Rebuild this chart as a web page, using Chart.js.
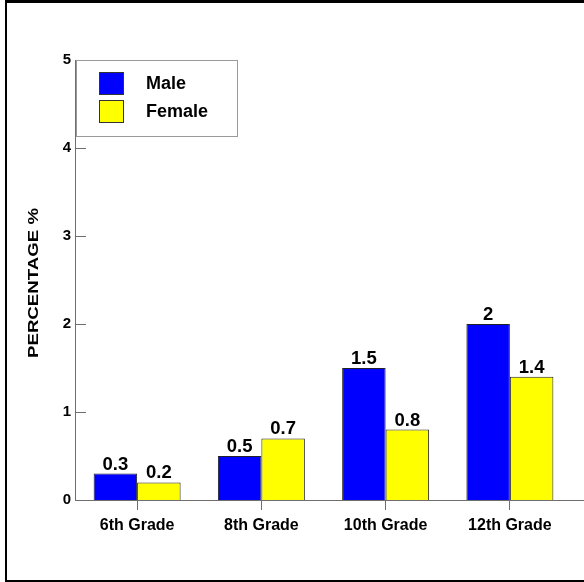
<!DOCTYPE html>
<html>
<head>
<meta charset="utf-8">
<script src="https://cdn.jsdelivr.net/npm/chart.js@4/dist/chart.umd.min.js"></script>
<style>
  html, body { margin: 0; padding: 0; background: #fff; overflow: hidden; }
  #wrap { position: relative; width: 584px; height: 582px; overflow: hidden; }
  #frame {
    position: absolute; left: 5px; top: 0; width: 640px; height: 577px;
    border-top: 3px solid #000; border-left: 2px solid #000; border-bottom: 2px solid #000;
    pointer-events: none;
  }
  canvas { position: absolute; left: 0; top: 0; }
</style>
</head>
<body>
<div id="wrap">
  <canvas id="c" width="584" height="582"></canvas>
  <div id="frame"></div>
</div>
<script>
// Grade levels and percentages by sex
const grades = ['6th Grade', '8th Grade', '10th Grade', '12th Grade'];
const maleValues = [0.3, 0.5, 1.5, 2];
const femaleValues = [0.2, 0.7, 0.8, 1.4];
const seriesNames = ['Male', 'Female'];
const yTickValues = [0, 1, 2, 3, 4, 5];
const yAxisTitle = 'PERCENTAGE %';

const FONT = 'Arial, "Liberation Sans", sans-serif';
const AXIS_GRAY = '#6e6e6e';

// Value labels above each bar, inward y ticks, y title, x-axis extension and legend box
const decorations = {
  id: 'decorations',
  afterDatasetsDraw(chart) {
    const ctx = chart.ctx;
    ctx.save();
    ctx.fillStyle = '#000';
    ctx.font = 'bold 18.5px ' + FONT;
    ctx.textAlign = 'center';
    ctx.textBaseline = 'alphabetic';
    chart.data.datasets.forEach((ds, i) => {
      chart.getDatasetMeta(i).data.forEach((el, j) => {
        ctx.fillText(String(ds.data[j]), el.x, el.y - 4);
      });
    });
    ctx.restore();
  },
  afterDraw(chart) {
    const ctx = chart.ctx;
    const area = chart.chartArea;
    const y = chart.scales.y;
    ctx.save();

    // inward tick marks on the value axis
    ctx.strokeStyle = AXIS_GRAY;
    ctx.lineWidth = 1;
    yTickValues.forEach(v => {
      const py = Math.round(y.getPixelForValue(v)) + 0.5;
      ctx.beginPath();
      ctx.moveTo(area.left, py);
      ctx.lineTo(area.left + 11, py);
      ctx.stroke();
    });

    // category axis runs on to the right edge
    const by = Math.round(area.bottom) + 0.5;
    ctx.beginPath();
    ctx.moveTo(area.right, by);
    ctx.lineTo(chart.width, by);
    ctx.stroke();

    // rotated axis title, drawn wide
    ctx.fillStyle = '#000';
    ctx.font = 'bold 14px ' + FONT;
    ctx.textAlign = 'center';
    ctx.textBaseline = 'middle';
    const w = ctx.measureText(yAxisTitle).width;
    ctx.translate(34, 283);
    ctx.rotate(-Math.PI / 2);
    ctx.scale(150 / w, 1);
    ctx.fillText(yAxisTitle, 0, 0);
    ctx.setTransform(1, 0, 0, 1, 0, 0);

    // legend box
    const lx = 76, ly = 60, lw = 161, lh = 76;
    ctx.fillStyle = '#fff';
    ctx.fillRect(lx, ly, lw, lh);
    ctx.strokeStyle = '#9a9a9a';
    ctx.strokeRect(lx + 0.5, ly + 0.5, lw, lh);
    ctx.font = 'bold 18px ' + FONT;
    ctx.textAlign = 'left';
    ctx.textBaseline = 'middle';
    chart.data.datasets.forEach((ds, i) => {
      const sy = 72 + i * 28;
      ctx.fillStyle = ds.backgroundColor;
      ctx.fillRect(99, sy, 24, 22);
      ctx.strokeStyle = '#333';
      ctx.strokeRect(99.5, sy + 0.5, 24, 22);
      ctx.fillStyle = '#000';
      ctx.fillText(ds.label, 146, sy + 12);
    });
    ctx.restore();
  }
};

new Chart(document.getElementById('c'), {
  type: 'bar',
  data: {
    labels: grades,
    datasets: [
      { label: seriesNames[0], data: maleValues, backgroundColor: '#0000ff', borderColor: '#222', borderWidth: 1 },
      { label: seriesNames[1], data: femaleValues, backgroundColor: '#ffff00', borderColor: '#222', borderWidth: 1 }
    ]
  },
  options: {
    responsive: false,
    devicePixelRatio: 1,
    animation: false,
    layout: { padding: { left: 0, top: 60, right: 12, bottom: 0 } },
    datasets: { bar: { categoryPercentage: 0.7, barPercentage: 1.0 } },
    plugins: { legend: { display: false }, tooltip: { enabled: false } },
    scales: {
      x: {
        offset: true,
        grid: { display: true, drawOnChartArea: false, offset: false, tickLength: 10, color: AXIS_GRAY, lineWidth: 1 },
        border: { display: true, color: AXIS_GRAY, width: 1 },
        ticks: { color: '#000', font: { family: FONT, size: 16, weight: 'bold' }, padding: 6, maxRotation: 0 },
        afterFit(scale) { scale.height = 82; }
      },
      y: {
        min: 0,
        max: 5,
        afterBuildTicks(scale) { scale.ticks = yTickValues.map(v => ({ value: v })); },
        grid: { display: false, drawTicks: false },
        border: { display: true, color: AXIS_GRAY, width: 1 },
        ticks: { color: '#000', font: { family: FONT, size: 15, weight: 'bold' }, padding: 4 },
        afterFit(scale) { scale.width = 75; }
      }
    }
  },
  plugins: [decorations]
});
</script>
</body>
</html>
